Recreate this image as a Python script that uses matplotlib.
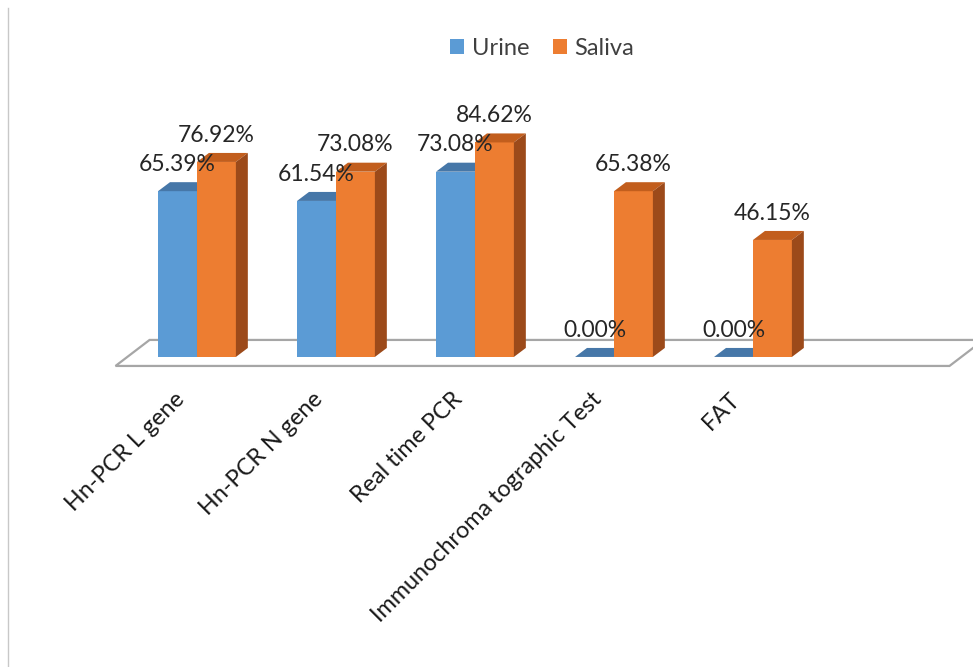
import matplotlib
matplotlib.use("Agg")
import matplotlib.pyplot as plt
from matplotlib.patches import Polygon, Patch
from matplotlib.lines import Line2D

plt.rcParams["font.family"] = ["Lato", "DejaVu Sans"]

categories = ["Hn-PCR L gene", "Hn-PCR N gene", "Real time PCR",
              "Immunochroma tographic Test", "FAT"]
urine = [65.39, 61.54, 73.08, 0.00, 0.00]
saliva = [76.92, 73.08, 84.62, 65.38, 46.15]

series = [
    ("Urine", urine, "#5B9BD5", "#4677A8", "#3E6D9C"),
    ("Saliva", saliva, "#ED7D31", "#C25E1D", "#9C4A1A"),
]

# pseudo-3D offsets (data units)
BAR_W = 0.28
DX, DY = 0.086, 3.55          # bar depth
FDX, FDY = 0.245, 10.26       # floor depth
N_SLOTS = len(categories) + 1

fig = plt.figure(figsize=(9.73, 6.67), dpi=100)
ax = fig.add_axes([0, 0, 1, 1])
ax.set_xlim(-1.417, 5.583)
ax.set_ylim(-122.3, 140.8)
ax.axis("off")

# floor
x0 = -0.5 - DX
x1 = N_SLOTS - 0.5 - DX
floor = Polygon([(x0, -DY), (x1, -DY), (x1 + FDX, -DY + FDY), (x0 + FDX, -DY + FDY)],
                closed=True, facecolor="white", edgecolor="#A6A6A6", lw=1.6, zorder=1)
ax.add_patch(floor)


def draw_bar(xl, h, front, top, side, z):
    ax.bar(xl, h, width=BAR_W, align="edge", color=front, lw=0, zorder=z)
    xr = xl + BAR_W
    ax.add_patch(Polygon([(xl, h), (xr, h), (xr + DX, h + DY), (xl + DX, h + DY)],
                         closed=True, facecolor=top, lw=0, zorder=z))
    ax.add_patch(Polygon([(xr, 0), (xr + DX, DY), (xr + DX, h + DY), (xr, h)],
                         closed=True, facecolor=side, lw=0, zorder=z))


for i in range(len(categories)):
    for k, (name, vals, front, top, side) in enumerate(series):
        xl = i - BAR_W + k * BAR_W
        draw_bar(xl, vals[i], front, top, side, 2 + i * 2 + k)
        ax.text(xl + BAR_W / 2, vals[i] + 10.6, f"{vals[i]:.2f}%",
                ha="center", va="center", fontsize=16.5, color="#262626", zorder=20)

for i, label in enumerate(categories):
    ax.text(i - 0.17, -12.5, label, rotation=45, rotation_mode="anchor",
            ha="right", va="top", fontsize=16.8, color="#1a1a1a")

handles = [Patch(facecolor=s[2], label=s[0]) for s in series]
fig.legend(handles=handles, loc="center", bbox_to_anchor=(0.557, 0.928), ncol=2,
           frameon=False, fontsize=17, handlelength=0.6, handleheight=0.6,
           handletextpad=0.3, columnspacing=1.0, labelcolor="#404040")

# left edge border
fig.add_artist(Line2D([8 / 973, 8 / 973], [0, 1 - 8 / 667], color="#C8C8C8", lw=1.0))

fig.savefig("out.png", dpi=100)
